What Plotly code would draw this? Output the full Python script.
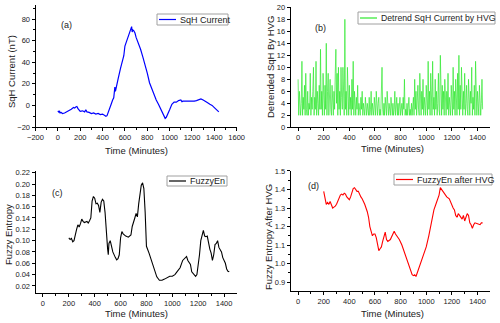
import plotly.graph_objects as go

# (a) SqH current
sqh_t = [0, 10, 15, 20, 30, 40, 60, 80, 100, 120, 140, 150, 160, 170, 180, 190, 200,
         220, 240, 250, 260, 280, 300, 320, 340, 360, 380, 400, 420, 430, 440, 450,
         460, 470, 480, 490, 500, 505, 510, 515, 520, 530, 540, 560, 570, 580, 590,
         600, 610, 620, 630, 640, 650, 660, 665, 670, 680, 690, 700, 720, 740, 760,
         780, 800, 820, 840, 860, 880, 900, 920, 940, 960, 970, 980, 1000, 1020, 1040,
         1060, 1080, 1100, 1110, 1120, 1140, 1160, 1180, 1200, 1220, 1240, 1260, 1280,
         1300, 1320, 1340, 1360, 1380, 1400, 1420, 1440]
sqh_v = [-5, -6.5, -5, -7, -6.5, -7.5, -7, -6, -5, -3.5, -2, -2.5, -1.5, -1, -3, -4.5, -5.5,
         -5, -6, -4, -6, -6.5, -7.5, -7, -8, -7.5, -8.5, -8, -9.5, -10, -9.5, -7,
         -4, -1, 2, 5, 7, 12, 17, 13, 16, 20, 25, 34, 38, 44, 46,
         55, 58, 62, 64, 67, 69, 73, 68, 70, 69, 67, 63, 58, 52, 45,
         38, 30, 21, 15, 10, 5, 1, -3, -7, -12, -11, -9, -4, 1, 3,
         3, 4.5, 5, 3.5, 4, 4, 3.5, 4, 3.5, 4, 4.5, 5, 6,
         5, 4, 2.5, 1, 0, -2, -4, -6]

# (b) HVG degree of detrended SqH, 5-minute samples
hvg_t = list(range(0, 1441, 5))
hvg_v = [8, 2, 6, 3, 2, 4, 11, 2, 5, 3, 7, 2,
         9, 3, 2, 6, 2, 4, 3, 9, 2, 5, 3, 6,
         10, 2, 5, 3, 11, 2, 6, 4, 2, 7, 3, 13,
         3, 6, 2, 9, 4, 2, 7, 3, 14, 2, 6, 9,
         2, 5, 8, 3, 2, 7, 4, 2, 6, 3, 9, 13,
         4, 9, 2, 10, 3, 6, 2, 10, 5, 3, 10, 4,
         2, 18, 3, 6, 2, 10, 4, 2, 7, 3, 5, 2,
         8, 3, 11, 2, 6, 4, 2, 5, 3, 7, 2, 4,
         3, 2, 5, 3, 6, 2, 4, 3, 2, 5, 3, 2,
         4, 3, 2, 5, 2, 3, 6, 2, 4, 3, 2, 5,
         3, 2, 6, 3, 2, 4, 5, 2, 3, 2, 6, 10,
         3, 2, 4, 2, 5, 3, 2, 6, 3, 2, 4, 3,
         2, 5, 3, 2, 4, 2, 3, 6, 2, 3, 5, 2,
         4, 2, 3, 5, 2, 3, 4, 2, 5, 3, 8, 2,
         3, 2, 4, 2, 3, 5, 2, 3, 2, 4, 2, 3,
         5, 2, 8, 3, 6, 2, 4, 7, 3, 2, 9, 4,
         2, 6, 3, 8, 2, 5, 3, 2, 7, 4, 2, 11,
         3, 6, 2, 9, 4, 2, 11, 3, 5, 2, 8, 3,
         6, 2, 4, 9, 3, 2, 12, 5, 2, 7, 3, 6,
         2, 8, 4, 2, 6, 3, 9, 2, 5, 3, 2, 7,
         4, 2, 10, 3, 6, 2, 8, 4, 2, 9, 3, 12,
         2, 7, 3, 10, 5, 2, 6, 3, 9, 2, 4, 7,
         3, 2, 8, 5, 2, 6, 4, 10, 2, 5, 3, 7,
         2, 11, 4, 2, 6, 3, 2, 7, 5, 2, 4, 8,
         3]

# (c) fuzzy entropy
fe_t = [200, 210, 220, 230, 240, 250, 260, 270, 280, 290, 300, 310, 320, 340, 350, 360,
        370, 380, 390, 400, 410, 420, 430, 440, 450, 460, 470, 480, 490, 500, 505, 510,
        520, 530, 540, 560, 570, 580, 590, 600, 610, 620, 640, 660, 680, 690, 700, 710,
        720, 730, 740, 750, 760, 770, 780, 790, 800, 820, 840, 860, 880, 900, 920, 940,
        960, 980, 1000, 1020, 1040, 1060, 1080, 1100, 1110, 1120, 1140, 1150, 1160, 1180,
        1190, 1200, 1210, 1220, 1230, 1240, 1250, 1260, 1270, 1280, 1290, 1300, 1310,
        1320, 1330, 1340, 1350, 1360, 1380, 1390, 1400, 1410, 1420, 1430, 1440]
fe_v = [0.105, 0.102, 0.104, 0.098, 0.100, 0.112, 0.120, 0.128, 0.124, 0.130, 0.138, 0.134,
        0.132, 0.134, 0.131, 0.135, 0.140, 0.170, 0.178, 0.175, 0.165, 0.166, 0.162, 0.150,
        0.168, 0.173, 0.170, 0.150, 0.110, 0.085, 0.075, 0.095, 0.100, 0.092, 0.080, 0.070,
        0.066, 0.068, 0.075, 0.105, 0.116, 0.112, 0.108, 0.106, 0.110, 0.125, 0.135, 0.140,
        0.148, 0.142, 0.165, 0.185, 0.198, 0.202, 0.192, 0.150, 0.090, 0.078, 0.064, 0.050,
        0.036, 0.030, 0.030, 0.032, 0.035, 0.037, 0.037, 0.040, 0.046, 0.052, 0.065, 0.070,
        0.072, 0.065, 0.058, 0.045, 0.042, 0.037, 0.040, 0.055, 0.075, 0.100, 0.108, 0.118,
        0.108, 0.107, 0.108, 0.095, 0.085, 0.078, 0.065, 0.075, 0.093, 0.095, 0.100, 0.088,
        0.080, 0.070, 0.065, 0.060, 0.050, 0.046, 0.045]

# (d) fuzzy entropy after HVG
fh_t = [200, 210, 220, 230, 240, 250, 260, 270, 280, 290, 300, 310, 320, 330, 340, 350,
        360, 370, 380, 390, 400, 410, 420, 430, 440, 450, 460, 470, 480, 490, 500, 520,
        540, 550, 560, 570, 580, 590, 600, 610, 620, 630, 640, 650, 660, 670, 680, 690,
        700, 720, 740, 750, 760, 770, 790, 810, 830, 850, 870, 880, 890, 900, 910, 920,
        930, 940, 960, 980, 1000, 1020, 1040, 1060, 1080, 1100, 1110, 1120, 1140, 1160,
        1180, 1200, 1210, 1220, 1230, 1240, 1250, 1260, 1270, 1280, 1290, 1300, 1310,
        1320, 1330, 1340, 1350, 1360, 1370, 1380, 1400, 1420, 1430, 1440]
fh_v = [1.39, 1.35, 1.32, 1.33, 1.32, 1.335, 1.31, 1.30, 1.305, 1.31, 1.32, 1.34, 1.36,
        1.37, 1.375, 1.37, 1.38, 1.375, 1.36, 1.35, 1.345, 1.36, 1.39, 1.405, 1.41, 1.40,
        1.39, 1.39, 1.37, 1.36, 1.35, 1.32, 1.28, 1.25, 1.20, 1.17, 1.15, 1.16, 1.16, 1.14,
        1.10, 1.07, 1.08, 1.09, 1.12, 1.15, 1.17, 1.13, 1.12, 1.13, 1.16, 1.175, 1.16, 1.15,
        1.13, 1.10, 1.06, 1.02, 0.98, 0.95, 0.94, 0.935, 0.94, 0.93, 0.95, 0.97, 1.00, 1.05,
        1.09, 1.15, 1.22, 1.29, 1.33, 1.37, 1.41, 1.40, 1.38, 1.36, 1.35, 1.31, 1.30, 1.29,
        1.26, 1.25, 1.27, 1.26, 1.25, 1.24, 1.26, 1.23, 1.25, 1.27, 1.26, 1.22, 1.21, 1.19,
        1.21, 1.22, 1.215, 1.21, 1.22, 1.22]

FONT = "Liberation Sans, Arial, sans-serif"
W, H = 500, 323

fig = go.Figure()
fig.add_trace(go.Scatter(x=sqh_t, y=sqh_v, mode="lines", name="SqH Current",
                         line=dict(color="#0000ff", width=1.2), xaxis="x", yaxis="y"))
fig.add_trace(go.Scatter(x=hvg_t, y=hvg_v, mode="lines", name="Detrend SqH Current by HVG",
                         line=dict(color="#2ee82e", width=0.7), xaxis="x2", yaxis="y2"))
fig.add_trace(go.Scatter(x=fe_t, y=fe_v, mode="lines", name="FuzzyEn",
                         line=dict(color="#000000", width=1.1), xaxis="x3", yaxis="y3"))
fig.add_trace(go.Scatter(x=fh_t, y=fh_v, mode="lines", name="FuzzyEn after HVG",
                         line=dict(color="#ff0000", width=1.1), xaxis="x4", yaxis="y4"))


def axis(domain, rng, dtick, minor=None, anchor=None, fmt=None):
    a = dict(domain=domain, range=rng, dtick=dtick, tick0=0, showline=True,
             linecolor="black", linewidth=1, ticks="outside", ticklen=3,
             tickcolor="black", showgrid=False, zeroline=False, mirror=False,
             automargin=False,
             tickfont=dict(size=7.5, family=FONT, color="#222"), anchor=anchor)
    if minor:
        a["minor"] = dict(dtick=minor, ticks="outside", ticklen=2, tickcolor="black",
                          showgrid=False)
    if fmt:
        a["tickformat"] = fmt
    return a


XL = [0.071, 0.4734]
XR = [0.5814, 0.980]
YT_a = [0.6068, 0.9845]
YT_b = [0.6059, 0.9774]
YB_c = [0.0938, 0.4706]
YB_d = [0.0991, 0.4706]
xr = [-57.6, 1497.6]

fig.update_layout(
    width=W, height=H, autosize=False, showlegend=False,
    margin=dict(l=0, r=0, t=0, b=0),
    paper_bgcolor="white", plot_bgcolor="white",
    font=dict(family=FONT, color="#222"),
    xaxis=axis(XL, [-200, 1600], 200, 100, "y"),
    yaxis=axis(YT_a, [-20, 93], 20, 10, "x"),
    xaxis2=axis(XR, xr, 200, 100, "y2"),
    yaxis2=axis(YT_b, [0, 20], 2, None, "x2"),
    xaxis3=axis(XL, xr, 200, 100, "y3"),
    yaxis3=axis(YB_c, [0.008, 0.223], 0.02, None, "x3", ".2f"),
    xaxis4=axis(XR, xr, 200, 100, "y4"),
    yaxis4=axis(YB_d, [0.852, 1.5], 0.1, 0.05, "x4", ".1f"),
)


def px(x, y):
    return x / W, 1 - y / H


# legend boxes drawn like the Origin ones: (box x0, x1, y0, y1, colour, label, size)
legends = [(157, 228, 14, 25, "#0000ff", "SqH Current", 9),
           (358, 495, 12, 24, "#2ee82e", "Detrend SqH Current by HVG", 8.7),
           (167, 227, 176, 186, "#000000", "FuzzyEn", 9),
           (394, 492, 174, 185, "#ff0000", "FuzzyEn after HVG", 9)]
for x0, x1, y0, y1, col, label, fs in legends:
    ax0, ay0 = px(x0, y0)
    ax1, ay1 = px(x1, y1)
    fig.add_shape(type="rect", xref="paper", yref="paper", x0=ax0, x1=ax1, y0=ay1, y1=ay0,
                  line=dict(color="#a0a0a0", width=1), fillcolor="white", layer="above")
    ym = 1 - (y0 + y1) / 2 / H
    fig.add_shape(type="line", xref="paper", yref="paper", x0=(x0 + 2) / W,
                  x1=(x0 + 19) / W, y0=ym, y1=ym, line=dict(color=col, width=1.2),
                  layer="above")
    fig.add_annotation(text=label, x=(x0 + 21) / W, y=ym, xref="paper", yref="paper",
                       xanchor="left", yanchor="middle", showarrow=False,
                       font=dict(size=fs, family=FONT, color="#222"))

# panel letters
for txt, x, y in [("(a)", 66, 25), ("(b)", 320, 28), ("(c)", 57, 193), ("(d)", 313, 186)]:
    fig.add_annotation(text=txt, x=x / W, y=1 - y / H, xref="paper", yref="paper",
                       xanchor="center", yanchor="middle", showarrow=False,
                       font=dict(size=9, family=FONT, color="#222"))

# axis titles
for txt, x, y in [("Time (Minutes)", 136, 150), ("Time (Minutes)", 392, 148),
                  ("Time (Minutes)", 136, 313), ("Time (Minutes)", 392, 313)]:
    fig.add_annotation(text=txt, x=x / W, y=1 - y / H, xref="paper", yref="paper",
                       xanchor="center", yanchor="middle", showarrow=False,
                       font=dict(size=9.5, family=FONT, color="#222"))
for txt, x, y in [("SqH Current (nT)", 11, 72), ("Detrended SqH By HVG", 271, 67),
                  ("Fuzzy Entropy", 8, 235), ("Fuzzy Entropy After HVG", 268, 237)]:
    fig.add_annotation(text=txt, x=x / W, y=1 - y / H, xref="paper", yref="paper",
                       xanchor="center", yanchor="middle", showarrow=False, textangle=-90,
                       font=dict(size=9.5, family=FONT, color="#222"))

fig.write_html("out.html", config={"displayModeBar": False},
               post_script="document.body.style.margin='0px';"
                           "document.body.style.overflow='hidden';")
